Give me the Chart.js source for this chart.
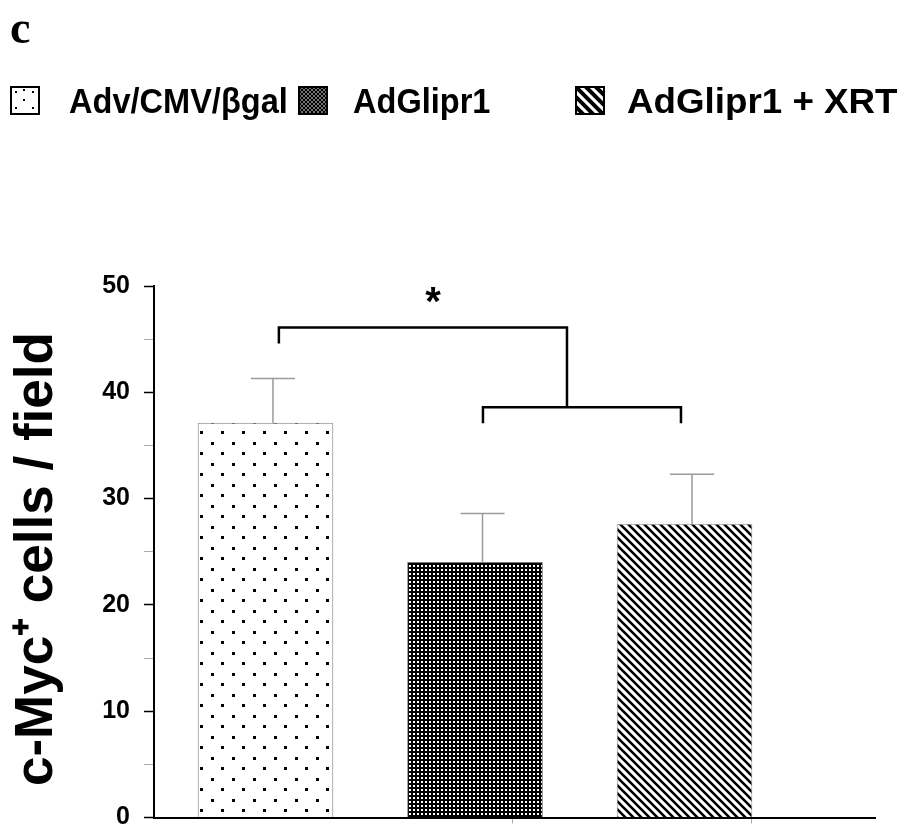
<!DOCTYPE html>
<html lang="en">
<head>
  <meta charset="UTF-8">
  <title>c-Myc cells</title>
  <script src="https://cdn.jsdelivr.net/npm/chart.js@4.4.1/dist/chart.umd.min.js"></script>
  <style>
    body { margin: 0; background: #fff; overflow: hidden; }
    #wrap { position: relative; width: 904px; height: 833px; overflow: hidden; font-family: "Liberation Sans", Arial, sans-serif; }
    #chart { position: absolute; left: 0; top: 0; }
    .panel { position: absolute; left: 10px; top: 1px; font: bold 46px "Liberation Serif", "Times New Roman", serif; }
    .sw { position: absolute; top: 86px; }
    .lt { position: absolute; top: 81px; font-weight: bold; font-size: 35px; line-height: 40px; white-space: nowrap; transform-origin: 0 50%; }
  </style>
</head>
<body>
  <div id="wrap">
    <canvas id="chart" width="904" height="844"></canvas>
    <div class="panel">c</div>
    <canvas class="sw" id="sw0" width="30" height="29" style="left:10px"></canvas>
    <div class="lt" style="left:69px; transform: scaleX(0.93)">Adv/CMV/βgal</div>
    <canvas class="sw" id="sw1" width="30" height="29" style="left:298px"></canvas>
    <div class="lt" style="left:353px; transform: scaleX(0.93)">AdGlipr1</div>
    <canvas class="sw" id="sw2" width="30" height="29" style="left:575px"></canvas>
    <div class="lt" style="left:627px; transform: scaleX(1.05)">AdGlipr1 + XRT</div>
  </div>

  <script>
    const groups = ['Adv/CMV/βgal', 'AdGlipr1', 'AdGlipr1 + XRT'];
    const positions = [1, 2, 3];
    const means = [37.1, 24.0, 27.6];
    const errors = [4.2, 4.6, 4.7];
    const yMin = 0, yMax = 50, yStep = 5;
    const xTickValues = [2.18, 3.32];

    // significance bracket (data units)
    const upperBracketX = [1.064, 2.439];
    const upperBracketY = [46.1, 44.6];
    const lowerBracketX = [2.038, 2.983];
    const lowerBracketY = [38.6, 37.1];
    const starPos = [1.80, 48.3];

    function makePattern(kind) {
      const c = document.createElement('canvas');
      const g = c.getContext('2d');
      if (kind === 0) {
        c.width = 21; c.height = 21;
        g.fillStyle = '#fff'; g.fillRect(0, 0, 21, 21);
        g.fillStyle = '#000';
        g.fillRect(1, 1, 3, 3);
        g.fillRect(11, 11, 3, 3);
      } else if (kind === 1) {
        c.width = 4; c.height = 4;
        g.fillStyle = '#000'; g.fillRect(0, 0, 4, 4);
        g.fillStyle = '#fff'; g.fillRect(1, 1, 2, 2);
      } else {
        c.width = 8; c.height = 8;
        g.fillStyle = '#fff'; g.fillRect(0, 0, 8, 8);
        g.strokeStyle = '#000'; g.lineWidth = 2.6;
        g.beginPath();
        g.moveTo(-2, -2); g.lineTo(10, 10);
        g.moveTo(-2, 6); g.lineTo(2, 10);
        g.moveTo(6, -2); g.lineTo(10, 2);
        g.stroke();
      }
      return g.createPattern(c, 'repeat');
    }

    const patterns = [makePattern(0), makePattern(1), makePattern(2)];

    // legend swatches
    function drawSwatch(id, kind) {
      const c = document.getElementById(id);
      const g = c.getContext('2d');
      g.fillStyle = '#fff'; g.fillRect(0, 0, 30, 29);
      g.fillStyle = '#000';
      if (kind === 0) {
        [[5, 5], [22, 5], [13, 13], [5, 21], [22, 21], [13, 3]].forEach(p => g.fillRect(p[0], p[1], 2, 2));
      } else if (kind === 1) {
        for (let x = 1; x < 29; x += 2)
          for (let y = 1; y < 28; y += 2)
            if ((x + y) % 4 === 2) g.fillRect(x, y, 2, 2);
        g.fillStyle = 'rgba(0,0,0,0.55)'; g.fillRect(1, 1, 28, 27);
      } else {
        g.save();
        g.beginPath(); g.rect(1, 1, 28, 27); g.clip();
        g.strokeStyle = '#000'; g.lineWidth = 4;
        g.beginPath();
        for (let k = -30; k < 40; k += 10) { g.moveTo(k, 0); g.lineTo(k + 30, 30); }
        g.stroke();
        g.restore();
      }
      g.strokeStyle = '#000'; g.lineWidth = 2;
      g.strokeRect(1, 1, 28, 27);
    }
    drawSwatch('sw0', 0);
    drawSwatch('sw1', 1);
    drawSwatch('sw2', 2);

    const errorBars = {
      id: 'errorBars',
      afterDatasetsDraw(chart) {
        const x = chart.scales.x, y = chart.scales.y, ctx = chart.ctx;
        ctx.save();
        ctx.strokeStyle = '#9a9a9a';
        ctx.lineWidth = 1.5;
        positions.forEach((p, i) => {
          const px = x.getPixelForValue(p) + 7.5;
          const y1 = y.getPixelForValue(means[i]);
          const y2 = y.getPixelForValue(means[i] + errors[i]);
          ctx.beginPath();
          ctx.moveTo(px, y1); ctx.lineTo(px, y2);
          ctx.moveTo(px - 22, y2); ctx.lineTo(px + 22, y2);
          ctx.stroke();
        });
        ctx.restore();
      }
    };

    const bracket = {
      id: 'bracket',
      afterDatasetsDraw(chart) {
        const x = chart.scales.x, y = chart.scales.y, ctx = chart.ctx;
        const X = v => x.getPixelForValue(v), Y = v => y.getPixelForValue(v);
        ctx.save();
        ctx.strokeStyle = '#000';
        ctx.lineWidth = 2.5;
        ctx.beginPath();
        // upper bracket
        ctx.moveTo(X(upperBracketX[0]), Y(upperBracketY[1]));
        ctx.lineTo(X(upperBracketX[0]), Y(upperBracketY[0]));
        ctx.lineTo(X(upperBracketX[1]), Y(upperBracketY[0]));
        ctx.lineTo(X(upperBracketX[1]), Y(lowerBracketY[0]));
        // lower bracket
        ctx.moveTo(X(lowerBracketX[0]), Y(lowerBracketY[1]));
        ctx.lineTo(X(lowerBracketX[0]), Y(lowerBracketY[0]));
        ctx.lineTo(X(lowerBracketX[1]), Y(lowerBracketY[0]));
        ctx.lineTo(X(lowerBracketX[1]), Y(lowerBracketY[1]));
        ctx.stroke();
        ctx.fillStyle = '#000';
        ctx.font = 'bold 40px "Liberation Sans", Arial, sans-serif';
        ctx.textAlign = 'center';
        ctx.textBaseline = 'middle';
        ctx.fillText('*', X(starPos[0]), Y(starPos[1]));
        ctx.restore();
      }
    };

    Chart.defaults.font.family = '"Liberation Sans", Arial, sans-serif';
    Chart.defaults.color = '#000';

    const chart = new Chart(document.getElementById('chart').getContext('2d'), {
      type: 'bar',
      data: {
        datasets: [{
          label: 'c-Myc',
          data: positions.map((p, i) => ({ x: p, y: means[i] })),
          backgroundColor: patterns,
          borderColor: ['#999', '#777', '#aaa'],
          borderWidth: 1,
          barThickness: 135
        }]
      },
      plugins: [errorBars, bracket],
      options: {
        responsive: false,
        animation: false,
        layout: { padding: { top: 286, right: 29, left: 0, bottom: 0 } },
        plugins: { legend: { display: false }, tooltip: { enabled: false } },
        scales: {
          x: {
            type: 'linear',
            offset: false,
            min: 0.468,
            max: 3.909,
            afterBuildTicks: s => { s.ticks = xTickValues.map(v => ({ value: v })); },
            afterFit: s => { s.height = 16; },
            ticks: { display: false },
            grid: { offset: false, drawOnChartArea: false, drawTicks: true, tickLength: 6, tickColor: '#aaa', tickWidth: 1 },
            border: { color: '#000', width: 2 }
          },
          y: {
            min: yMin,
            max: yMax,
            afterFit: s => { s.width = 154; },
            ticks: {
              stepSize: yStep,
              padding: 14,
              font: { size: 25, weight: 'bold', lineHeight: 1 },
              callback: v => (v % 10 === 0 ? v : '')
            },
            grid: {
              drawOnChartArea: false,
              tickLength: 10,
              tickColor: c => (c.tick && c.tick.value % 10 === 0 ? '#000' : '#aaa'),
              tickWidth: c => (c.tick && c.tick.value % 10 === 0 ? 1.5 : 1)
            },
            border: { color: '#000', width: 2 },
            title: {
              display: true,
              text: 'c-Myc⁺ cells / field ',
              font: { size: 53, weight: 'bold' },
              padding: { top: 6, bottom: 0 }
            }
          }
        }
      }
    });
  </script>
</body>
</html>
